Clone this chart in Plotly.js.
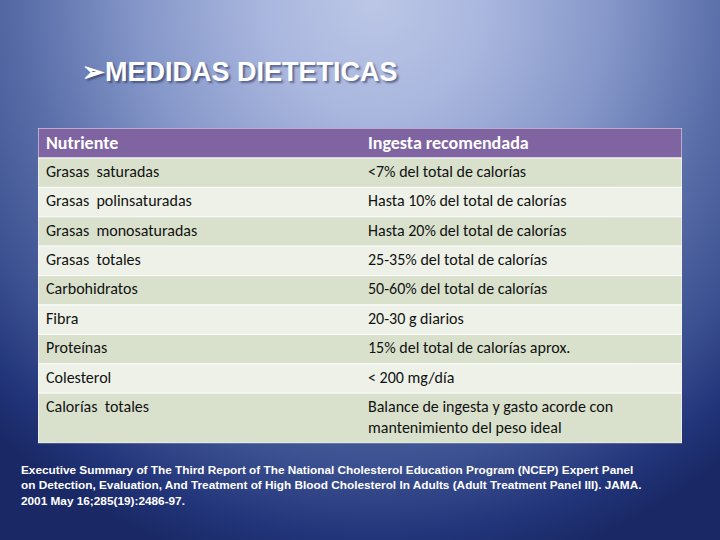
<!DOCTYPE html>
<html>
<head>
<meta charset="utf-8">
<script src="https://cdn.plot.ly/plotly-3.0.1.min.js"></script>
<style>
html,body{margin:0;padding:0;}
#chart{width:720px;height:540px;
background: radial-gradient(ellipse 78% 108% at 52% 0%, #bcc7e6 0%, #a9b6de 20%, #8597c9 42%, #5a6ea9 62%, #3b5090 80%, #22357a 92%, #1a2966 100%);}
</style>
</head>
<body>
<div id="chart"></div>
<script>
const headers = ["Nutriente", "Ingesta recomendada"];
const nutrientes = ["Grasas  saturadas", "Grasas  polinsaturadas", "Grasas  monosaturadas", "Grasas  totales", "Carbohidratos", "Fibra", "Proteínas", "Colesterol", "Calorías  totales"];
const ingesta = ["<7% del total de calorías", "Hasta 10% del total de calorías", "Hasta 20% del total de calorías", "25-35% del total de calorías", "50-60% del total de calorías", "20-30 g diarios", "15% del total de calorías aprox.", "< 200 mg/día", "Balance de ingesta y gasto acorde con<br>mantenimiento del peso ideal"];
const titleText = "➢MEDIDAS DIETETICAS";
const footnote = "Executive Summary of The Third Report of The National Cholesterol Education Program (NCEP) Expert Panel<br>on Detection, Evaluation, And Treatment of High Blood Cholesterol In Adults (Adult Treatment Panel III). JAMA.<br>2001 May 16;285(19):2486-97.";

// ---- table geometry (layout, in pixels) ----
const TABLE_W = 644, COL2_X = 322, PAD = 8;
const HEADER_H = 30, ROW_H = 29.4, EXTRA_LINE_H = 20.6;
const esc = s => s.split("<br>").map(p => p.replace(/</g, "&lt;").replace(/>/g, "&gt;")).join("<br>");
const nLines = s => s.split("<br>").length;

const rowH = [HEADER_H].concat(nutrientes.map((n, i) => ROW_H + (Math.max(nLines(n), nLines(ingesta[i])) - 1) * EXTRA_LINE_H));
const rowTop = [], rowMid = [];
let acc = 0;
rowH.forEach(h => { rowTop.push(acc); rowMid.push(acc + h / 2); acc += h; });
const TOTAL_H = acc;
// text is top-aligned in each cell: centre of its own block of lines
const textY = (s, r) => rowTop[r] + ROW_H / 2 + (nLines(s) - 1) * EXTRA_LINE_H / 2;

const dark = "#d9e1cd", light = "#edf1e7", headerColor = "#8064a2";
const fills = [headerColor].concat(nutrientes.map((_, i) => i % 2 === 0 ? dark : light));
const cellFont = "Carlito, Lato, sans-serif";

const bgTrace = {
  type: "bar", orientation: "h",
  y: rowMid, x: rowMid.map(() => TABLE_W), base: 0, width: rowH,
  marker: {color: fills, line: {color: "rgba(255,255,255,0.9)", width: 1}},
  hoverinfo: "skip", showlegend: false
};
const headerText = {
  type: "scatter", mode: "text",
  x: [PAD, COL2_X + PAD], y: [rowMid[0] + 1, rowMid[0] + 1],
  text: headers, textposition: "middle right",
  textfont: {family: cellFont, size: 18, color: "white", weight: "bold"},
  hoverinfo: "skip", showlegend: false, cliponaxis: false
};
const col1Text = {
  type: "scatter", mode: "text",
  x: nutrientes.map(() => PAD), y: nutrientes.map((s, i) => textY(s, i + 1)),
  text: nutrientes.map(esc), textposition: "middle right",
  textfont: {family: cellFont, size: 16, color: "#111111"},
  hoverinfo: "skip", showlegend: false, cliponaxis: false
};
const col2Text = {
  type: "scatter", mode: "text",
  x: ingesta.map(() => COL2_X + PAD), y: ingesta.map((s, i) => textY(s, i + 1)),
  text: ingesta.map(esc), textposition: "middle right",
  textfont: {family: cellFont, size: 16, color: "#111111"},
  hoverinfo: "skip", showlegend: false, cliponaxis: false
};

const hidden = {showgrid: false, zeroline: false, showticklabels: false, ticks: "", showline: false, fixedrange: true};

const layout = {
  width: 720, height: 540,
  margin: {l: 0, r: 0, t: 0, b: 0},
  paper_bgcolor: "rgba(0,0,0,0)",
  plot_bgcolor: "rgba(0,0,0,0)",
  showlegend: false,
  xaxis: Object.assign({domain: [38/720, 682/720], range: [0, TABLE_W]}, hidden),
  yaxis: Object.assign({domain: [1 - (128 + TOTAL_H)/540, 1 - 128/540], range: [TOTAL_H, 0]}, hidden),
  annotations: [
    {text: titleText, xref: "paper", yref: "paper", x: 80/720, y: 1 - 72/540, xanchor: "left", yanchor: "middle", showarrow: false,
     font: {family: "Liberation Sans, Arial, sans-serif", size: 27, color: "white", weight: "bold", shadow: "2px 2px 2px rgba(30,40,80,0.55)"}},
    {text: footnote, xref: "paper", yref: "paper", x: 19/720, y: 1 - 461/540, xanchor: "left", yanchor: "top", align: "left", showarrow: false,
     font: {family: "Liberation Sans, Arial, sans-serif", size: 11.8, color: "white", weight: "bold"}}
  ]
};

Plotly.newPlot("chart", [bgTrace, headerText, col1Text, col2Text], layout, {displayModeBar: false, staticPlot: true});
</script>
</body>
</html>
